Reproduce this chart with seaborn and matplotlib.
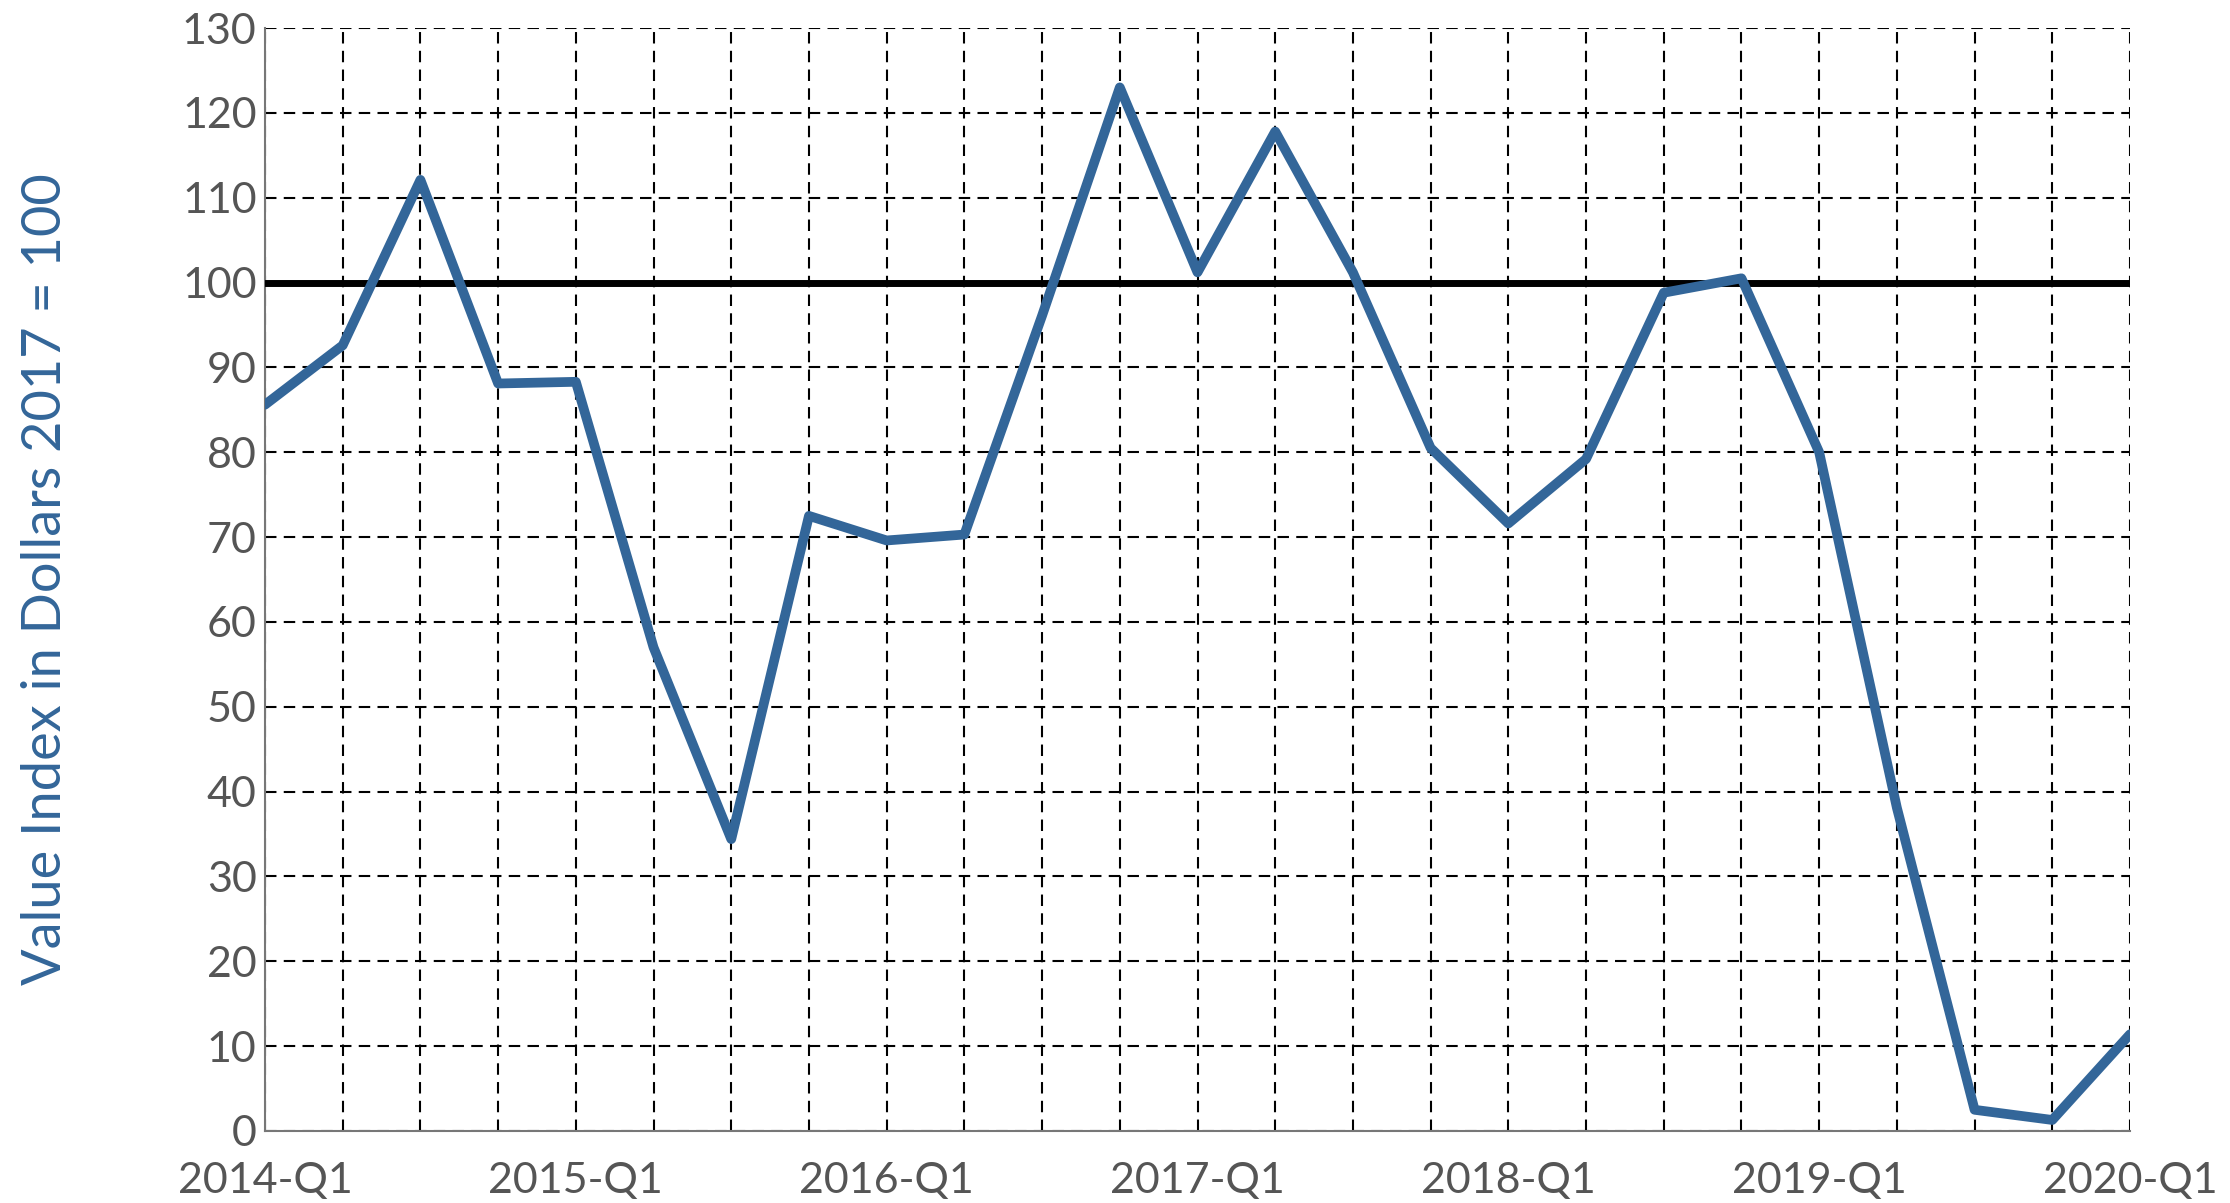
import numpy as np
import pandas as pd
import matplotlib
matplotlib.use("Agg")
import matplotlib.pyplot as plt
import seaborn as sns

# quarterly value index, 2014-Q1 .. 2020-Q1
quarters = [f"{y}-Q{q}" for y in range(2014, 2021) for q in range(1, 5)][:25]
values = [85.6, 92.6, 112.1, 88.1, 88.3, 57.0, 34.4, 72.5, 69.6, 70.3,
          96.1, 123.0, 101.2, 117.8, 101.2, 80.5, 71.6, 79.2, 98.8, 100.5,
          80.0, 38.1, 2.5, 1.3, 11.4]
tick_labels = ["2014-Q1", "2015-Q1", "2016-Q1", "2017-Q1", "2018-Q1", "2019-Q1", "2020-Q1"]
ref_level = 100

df = pd.DataFrame({"quarter": quarters, "value": values})
df["pos"] = np.arange(len(df))

sns.set_style("white")
plt.rcParams["font.family"] = ["Lato", "DejaVu Sans"]

fig = plt.figure(figsize=(22.30, 12.03), dpi=100)
ax = fig.add_axes([265 / 2230, 1 - 1131 / 1203, (2130 - 265) / 2230, (1131 - 28) / 1203])

sns.lineplot(data=df, x="pos", y="value", color="#336699", linewidth=7, ax=ax, zorder=4)
ax.axhline(ref_level, color="black", linewidth=5, zorder=3)

ax.set_xlim(0, len(df) - 1)
ax.set_ylim(0, 130)
ax.set_xticks(df["pos"])
ax.set_xticklabels([q if q in tick_labels else "" for q in df["quarter"]])
ax.set_yticks(range(0, 131, 10))
ax.grid(True, color="black", linestyle=(0, (5.5, 3.5)), linewidth=1.5, zorder=1)
ax.set_axisbelow(True)
ax.tick_params(axis="both", labelsize=31, colors="#555555", length=0, pad=6)
ax.tick_params(axis="x", pad=22)

for side in ["top", "right"]:
    ax.spines[side].set_visible(False)
for side in ["left", "bottom"]:
    ax.spines[side].set_color("#777777")
    ax.spines[side].set_linewidth(1.5)

ax.set_xlabel("")
ax.set_ylabel("Value Index in Dollars 2017 = 100", fontsize=39, color="#336699")
ax.yaxis.set_label_coords(-(265 - 70) / (2130 - 265), 0.5)

fig.savefig("out.png", dpi=100)
